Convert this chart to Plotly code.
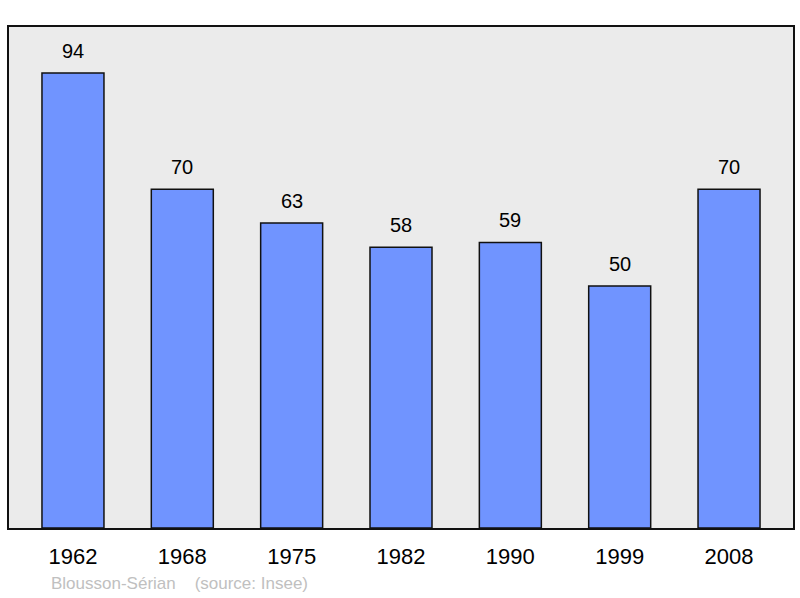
import plotly.graph_objects as go

years = ["1962", "1968", "1975", "1982", "1990", "1999", "2008"]
population = [94, 70, 63, 58, 59, 50, 70]

W, H = 800, 598
L, T = 9, 27
plot_w, plot_h = 784, 501
R = W - L - plot_w
B = H - T - plot_h

fig = go.Figure()
fig.add_trace(go.Bar(
    x=list(range(len(years))), y=population,
    width=0.567,
    marker=dict(color="#7094ff", line=dict(color="#111111", width=1.5)),
    hoverinfo="skip",
))

for i, v in enumerate(population):
    fig.add_annotation(x=i, y=v, xref="x", yref="y", text=str(v), showarrow=False,
                       yanchor="bottom", yshift=9,
                       font=dict(family="Liberation Sans, Arial", size=20, color="#000000"))

fig.add_annotation(x=(49 - L) / plot_w, y=(T + plot_h - 583) / plot_h, xref="paper", yref="paper",
                   text="Blousson-Sérian&nbsp;&nbsp;&nbsp;&nbsp;(source: Insee)",
                   showarrow=False, xanchor="left", yanchor="middle",
                   font=dict(family="Liberation Sans, Arial", size=17, color="#c0c0c0"))

fig.update_layout(
    width=W, height=H,
    margin=dict(l=L, r=R, t=T, b=B, autoexpand=False),
    paper_bgcolor="white", plot_bgcolor="#ebebeb",
    showlegend=False,
    xaxis=dict(range=[-0.585, 6.585], tickmode="array", tickvals=list(range(len(years))),
               ticktext=years, showgrid=False, zeroline=False, ticks="", fixedrange=True,
               automargin=False, showline=True, mirror=True, linecolor="#111111", linewidth=2,
               tickfont=dict(family="Liberation Sans, Arial", size=22, color="#000000"),
               ticklabelstandoff=8),
    yaxis=dict(range=[0, 103.5], showgrid=False, zeroline=False, showticklabels=False,
               ticks="", fixedrange=True, automargin=False,
               showline=True, mirror=True, linecolor="#111111", linewidth=2),
)
fig.write_html("out.html", config={"displayModeBar": False},
               post_script="document.body.style.margin='0';document.documentElement.style.overflow='hidden';")
